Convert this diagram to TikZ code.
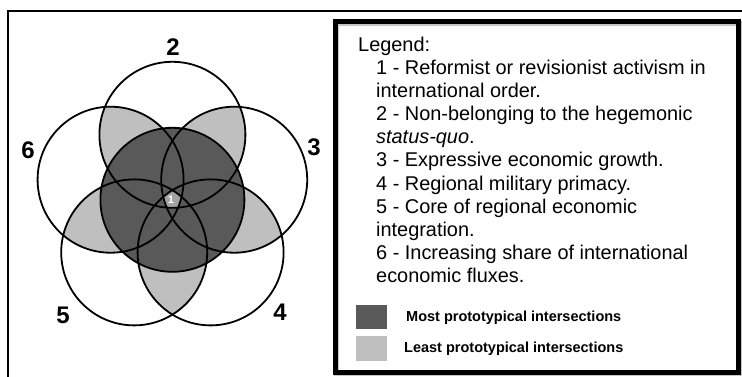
\documentclass[tikz,border=0pt]{standalone}
\usepackage{fontspec}
\setmainfont{Liberation Sans}
\usepackage{xcolor}
\usepackage{tikz}
\usetikzlibrary{calc}
\usetikzlibrary{positioning}

\definecolor{darkreg}{HTML}{595959}
\definecolor{lightreg}{HTML}{BFBFBF}
\definecolor{corereg}{HTML}{A3A3A3}

\tikzset{
  ring/.style={draw=black,line width=1.8pt},
  setlabel/.style={font=\fontsize{24}{26}\selectfont\bfseries,inner sep=0pt},
  legtext/.style={font=\fontsize{19.9}{23}\selectfont,inner sep=0pt,anchor=base west},
  keytext/.style={font=\fontsize{14.5}{16}\selectfont\bfseries,inner sep=0pt,anchor=west},
}

\begin{document}
\begin{tikzpicture}[x=1pt,y=-1pt]
		\useasboundingbox (0,0) rectangle (742,377);
		% outer frame
		\draw[line width=2pt] (8,377)--(8,11)--(742,11);
		% centres of the five outer sets
		\coordinate (O) at (172.4,199.8);
		\foreach \n/\a in {2/90,3/18,4/-54,5/-126,6/162}
		  \coordinate (c\n) at ({172.4+65*cos(\a)},{199.8-65*sin(\a)});
		% light petals
		\foreach \p/\q in {2/3,3/4,4/5,5/6,6/2}{
		  \begin{scope}
		    \clip (c\p) circle (73);
		    \fill[lightreg] (c\q) circle (73);
		  \end{scope}
		}
		\fill[darkreg] (O) circle (72);
		\begin{scope}
		  \clip (c2) circle (73); \clip (c3) circle (73); \clip (c4) circle (73);
		  \clip (c5) circle (73); \clip (c6) circle (73);
		  \fill[corereg] (O) circle (30);
		\end{scope}
		\draw[ring] (O) circle (72);
		\foreach \n in {2,...,6}
		  \draw[ring] (c\n) circle (73);
		\node[font=\fontsize{11}{12}\selectfont\bfseries,text=white,inner sep=0pt] (core) at (171,200) {1};
		\node[setlabel] (lab2) at (173,47) {2};
		\node[setlabel] (lab3) at (314,147) {3};
		\node[setlabel] (lab4) at (280,312) {4};
		\node[setlabel] (lab5) at (63,315) {5};
		\node[setlabel] (lab6) at (28,150) {6};
		% legend box
		\draw[gray!45,line width=5pt] (336.5,23.5) rectangle (739.5,373.5);
		\draw[line width=5pt] (335,22) rectangle (738,372);
		\node[legtext] (legtitle) at (358,52) {Legend:};
		\foreach \txt [count=\k] in {{1 - Reformist or revisionist activism in},{international order.},
		  {2 - Non-belonging to the hegemonic},{\textit{status-quo}.},{3 - Expressive economic growth.},
		  {4 - Regional military primacy.},{5 - Core of regional economic},{integration.},
		  {6 - Increasing share of international},{economic fluxes.}}
		  \node[legtext] (item\k) at (376,{52+23*\k}) {\txt};
		\fill[darkreg] (356,305) rectangle (387,329);
		\fill[lightreg] (356,336) rectangle (387,361);
		\node[keytext] (most) at (406,318) {Most prototypical intersections};
		\node[keytext] (least) at (404,349) {Least prototypical intersections};
	\end{tikzpicture}
\end{document}
